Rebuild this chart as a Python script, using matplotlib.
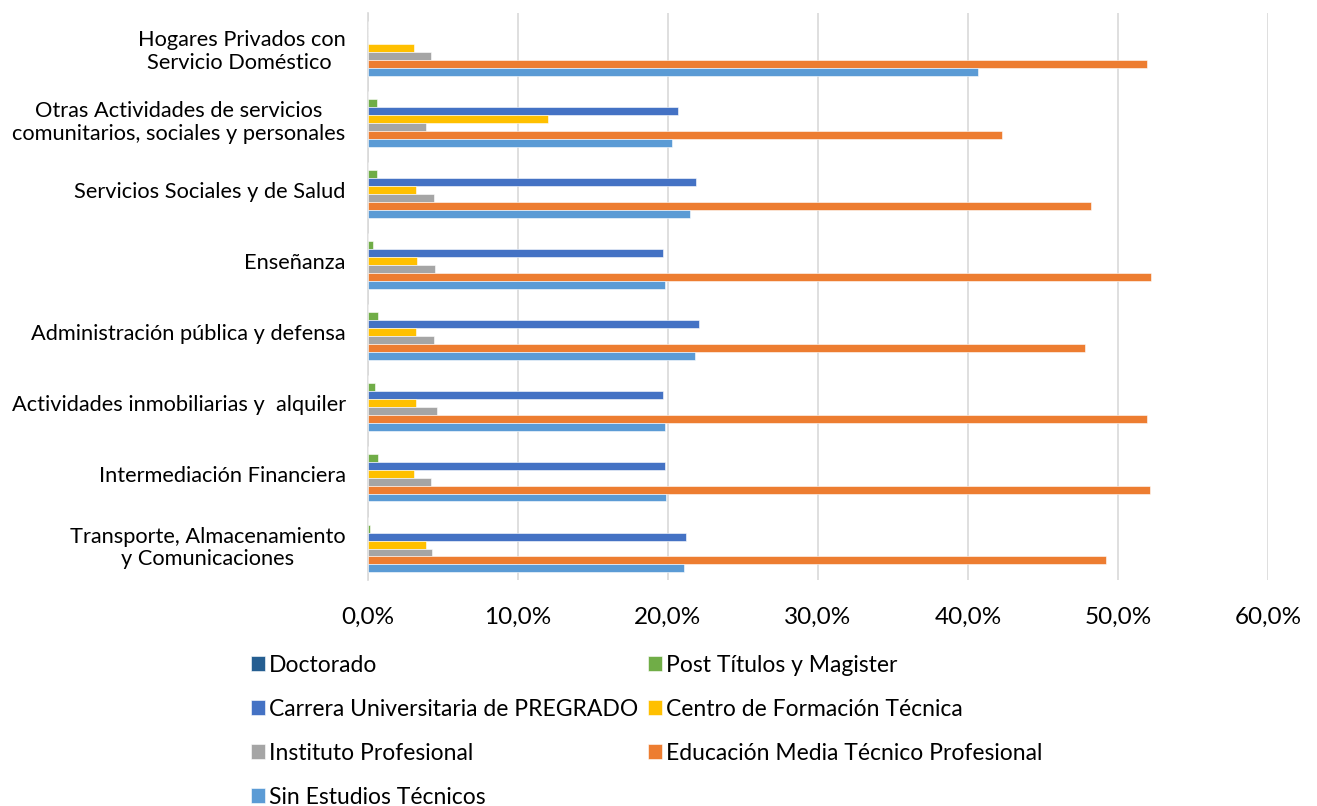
import numpy as np
import matplotlib.pyplot as plt
from matplotlib.ticker import FuncFormatter

plt.rcParams['font.family'] = ['Lato', 'DejaVu Sans']

# categories, bottom to top
categorias = [
    'Transporte, Almacenamiento\ny Comunicaciones',
    'Intermediación Financiera',
    'Actividades inmobiliarias y  alquiler',
    'Administración pública y defensa',
    'Enseñanza',
    'Servicios Sociales y de Salud',
    'Otras Actividades de servicios\ncomunitarios, sociales y personales',
    'Hogares Privados con\nServicio Doméstico ',
]

series = ['Doctorado', 'Post Títulos y Magister', 'Carrera Universitaria de PREGRADO',
          'Centro de Formación Técnica', 'Instituto Profesional',
          'Educación Media Técnico Profesional', 'Sin Estudios Técnicos']

doctorado = [0.0, 0.0, 0.0, 0.0, 0.0, 0.0, 0.0, 0.0]
post_titulos = [0.0016, 0.0067, 0.0047, 0.0067, 0.0036, 0.0058, 0.0058, 0.0]
pregrado = [0.212, 0.198, 0.197, 0.221, 0.197, 0.219, 0.207, 0.0]
cft = [0.0385, 0.031, 0.032, 0.032, 0.033, 0.032, 0.120, 0.031]
ip = [0.043, 0.042, 0.046, 0.044, 0.045, 0.044, 0.0385, 0.042]
emtp = [0.492, 0.521, 0.519, 0.478, 0.522, 0.482, 0.423, 0.519]
sin_estudios = [0.211, 0.199, 0.198, 0.218, 0.198, 0.215, 0.203, 0.407]

colores = ['#255E91', '#70AD47', '#4472C4', '#FFC000', '#A5A5A5', '#ED7D31', '#5B9BD5']
valores = [doctorado, post_titulos, pregrado, cft, ip, emtp, sin_estudios]

fig = plt.figure(figsize=(13.17, 8.06), dpi=100)
ax = fig.add_axes([0.2794, 0.2804, 0.6834, 0.7036])

y = np.arange(len(categorias))
h = 0.112
handles = []
for i, (vals, c, name) in enumerate(zip(valores, colores, series)):
    b = ax.barh(y + (3 - i) * h, vals, height=h, color=c, edgecolor='white',
                linewidth=0.4, label=name, zorder=3)
    handles.append(b)

ax.set_xlim(0, 0.6)
ax.set_ylim(-0.5, len(categorias) - 0.5)
ax.set_xticks(np.arange(0, 0.61, 0.1))
ax.xaxis.set_major_formatter(FuncFormatter(lambda v, p: f'{v * 100:.1f}%'.replace('.', ',')))
ax.set_yticks(y)
ax.set_yticklabels(categorias, multialignment='center', linespacing=1.15)
ax.tick_params(axis='y', length=0, labelsize=15.7, pad=16)
ax.tick_params(axis='x', length=0, labelsize=17.5, pad=19)
ax.grid(axis='x', color='#D9D9D9', linewidth=1.2, zorder=0)
for s in ['top', 'right', 'bottom']:
    ax.spines[s].set_visible(False)
ax.spines['left'].set_color('#D9D9D9')
ax.spines['left'].set_linewidth(1.2)

order = [0, 2, 4, 6, 1, 3, 5]
fig.legend([handles[k] for k in order], [series[k] for k in order],
           ncol=2, loc='upper left', bbox_to_anchor=(0.1906, 0.1876),
           frameon=False, fontsize=16.5, handlelength=0.6, handleheight=0.6,
           handletextpad=0.2, columnspacing=0.41, labelspacing=1.0,
           borderaxespad=0, borderpad=0)

fig.savefig('out.png', dpi=100)
